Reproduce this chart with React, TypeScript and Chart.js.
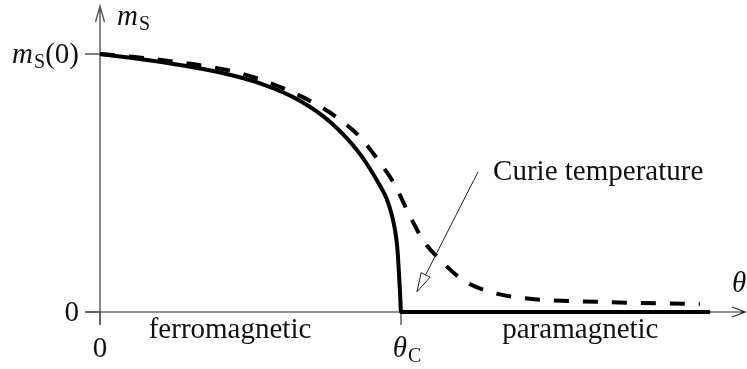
import React, { useEffect, useRef } from "react";
import { Chart, registerables } from "chart.js";

Chart.register(...registerables);

// Reduced temperature theta / theta_C
const solidTheta = [0, 0.199, 0.399, 0.532, 0.664, 0.764, 0.864, 0.93, 0.952, 0.969, 0.98, 0.988, 0.997, 1.0, 2.027];
const solidM = [1, 0.97, 0.928, 0.886, 0.819, 0.737, 0.612, 0.49, 0.44, 0.378, 0.318, 0.245, 0.07, 0, 0];

const dashedTheta = [0, 0.1, 0.222, 0.422, 0.521, 0.615, 0.703, 0.786, 0.864, 0.924, 0.98, 1.02, 1.073, 1.13, 1.206, 1.296, 1.405, 1.661, 1.993];
const dashedM = [1, 0.99, 0.974, 0.938, 0.906, 0.864, 0.815, 0.755, 0.678, 0.589, 0.492, 0.395, 0.279, 0.202, 0.124, 0.078, 0.054, 0.039, 0.031];

type Part = { t: string; italic?: boolean; sub?: boolean };

const xTickValues = [0, 1];
const xTickLabels: Part[][] = [[{ t: "0" }], [{ t: "θ", italic: true }, { t: "C", sub: true }]];
const yTickValues = [0, 1];
const yTickLabels: Part[][] = [[{ t: "0" }], [{ t: "m", italic: true }, { t: "S", sub: true }, { t: "(0)" }]];

const xAxisTitle: Part[] = [{ t: "θ", italic: true }];
const yAxisTitle: Part[] = [{ t: "m", italic: true }, { t: "S", sub: true }];

const regionLabels = ["ferromagnetic", "paramagnetic"];
const regionCenters = [0.432, 1.596];

const annotationText = "Curie temperature";
const annotationAt = { x: 1.306, y: 0.543 };
const annotationArrowFrom = { x: 1.256, y: 0.543 };
const annotationArrowTo = { x: 1.053, y: 0.078 };

const FAMILY = '"Liberation Serif", "DejaVu Serif", serif';
const SIZE = 29;
const SUB = 20;

function partFont(p: Part) {
  if (p.sub) return `${SUB}px ${FAMILY}`;
  return `${p.italic ? "italic " : ""}${SIZE}px ${FAMILY}`;
}

function measureParts(ctx: CanvasRenderingContext2D, parts: Part[]) {
  let w = 0;
  for (const p of parts) {
    ctx.font = partFont(p);
    w += ctx.measureText(p.t).width + (p.sub ? 1 : 0);
  }
  return w;
}

function drawParts(ctx: CanvasRenderingContext2D, parts: Part[], x: number, y: number, align: "left" | "center" | "right") {
  const w = measureParts(ctx, parts);
  let cx = align === "left" ? x : align === "center" ? x - w / 2 : x - w;
  ctx.textAlign = "left";
  ctx.textBaseline = "alphabetic";
  for (const p of parts) {
    ctx.font = partFont(p);
    const dy = p.sub ? 5 : 0;
    ctx.fillText(p.t, cx + (p.sub ? 1 : 0), y + dy);
    cx += ctx.measureText(p.t).width + (p.sub ? 1 : 0);
  }
}

const axesPlugin = {
  id: "physAxes",
  beforeDatasetsDraw(chart: any) {
    const ctx: CanvasRenderingContext2D = chart.ctx;
    const xs = chart.scales.x;
    const ys = chart.scales.y;
    const x0 = xs.getPixelForValue(0);
    const y0 = ys.getPixelForValue(0);
    const right = chart.chartArea.right - 2;
    ctx.save();
    // x axis
    ctx.strokeStyle = "#222";
    ctx.lineWidth = 1.2;
    ctx.beginPath();
    ctx.moveTo(x0 - 15, y0);
    ctx.lineTo(right, y0);
    ctx.moveTo(right - 13, y0 - 5);
    ctx.lineTo(right, y0);
    ctx.lineTo(right - 13, y0 + 5);
    ctx.stroke();
    // y axis
    ctx.strokeStyle = "#555";
    ctx.lineWidth = 1.4;
    ctx.beginPath();
    ctx.moveTo(x0, y0 + 13);
    ctx.lineTo(x0, 6);
    ctx.moveTo(x0 - 4.5, 22);
    ctx.lineTo(x0, 6);
    ctx.lineTo(x0 + 4.5, 22);
    ctx.stroke();
    // ticks
    ctx.beginPath();
    for (const v of xTickValues) {
      const px = xs.getPixelForValue(v);
      ctx.moveTo(px, y0);
      ctx.lineTo(px, y0 + 13);
    }
    for (const v of yTickValues) {
      const py = ys.getPixelForValue(v);
      ctx.moveTo(x0 - 15, py);
      ctx.lineTo(x0, py);
    }
    ctx.stroke();
    ctx.restore();
  },
  afterDatasetsDraw(chart: any) {
    const ctx: CanvasRenderingContext2D = chart.ctx;
    const xs = chart.scales.x;
    const ys = chart.scales.y;
    const x0 = xs.getPixelForValue(0);
    const y0 = ys.getPixelForValue(0);
    ctx.save();
    ctx.fillStyle = "#111";
    xTickValues.forEach((v, i) => {
      const px = xs.getPixelForValue(v);
      const shift = xTickLabels[i].length > 1 ? 6 : 0;
      drawParts(ctx, xTickLabels[i], px + shift, y0 + 45, "center");
    });
    yTickValues.forEach((v, i) => {
      const py = ys.getPixelForValue(v);
      drawParts(ctx, yTickLabels[i], x0 - 21, py + 9, "right");
    });
    drawParts(ctx, xAxisTitle, chart.chartArea.right - 15, y0 - 20, "left");
    drawParts(ctx, yAxisTitle, x0 + 17, 25, "left");
    regionLabels.forEach((t, i) => {
      drawParts(ctx, [{ t }], xs.getPixelForValue(regionCenters[i]), y0 + 26, "center");
    });
    drawParts(ctx, [{ t: annotationText }], xs.getPixelForValue(annotationAt.x), ys.getPixelForValue(annotationAt.y) + 8, "left");
    // annotation arrow
    const ax = xs.getPixelForValue(annotationArrowFrom.x);
    const ay = ys.getPixelForValue(annotationArrowFrom.y);
    const bx = xs.getPixelForValue(annotationArrowTo.x);
    const by = ys.getPixelForValue(annotationArrowTo.y);
    const ang = Math.atan2(by - ay, bx - ax);
    const L = 19;
    const H = 5;
    const baseX = bx - L * Math.cos(ang);
    const baseY = by - L * Math.sin(ang);
    ctx.strokeStyle = "#222";
    ctx.lineWidth = 1;
    ctx.beginPath();
    ctx.moveTo(ax, ay);
    ctx.lineTo(baseX, baseY);
    ctx.stroke();
    ctx.beginPath();
    ctx.moveTo(bx, by);
    ctx.lineTo(baseX + H * Math.sin(ang), baseY - H * Math.cos(ang));
    ctx.lineTo(baseX - H * Math.sin(ang), baseY + H * Math.cos(ang));
    ctx.closePath();
    ctx.fillStyle = "#fff";
    ctx.fill();
    ctx.stroke();
    ctx.restore();
  },
};

export default function App() {
  const ref = useRef<HTMLCanvasElement | null>(null);
  useEffect(() => {
    if (!ref.current) return;
    const chart = new Chart(ref.current, {
      type: "line",
      data: {
        datasets: [
          {
            label: "Spontaneous magnetization",
            data: solidTheta.map((x, i) => ({ x, y: solidM[i] })),
            borderColor: "#000",
            borderWidth: 4,
            pointRadius: 0,
            fill: false,
            cubicInterpolationMode: "monotone",
            borderCapStyle: "butt",
            order: 0,
          },
          {
            label: "With field",
            data: dashedTheta.map((x, i) => ({ x, y: dashedM[i] })),
            borderColor: "#000",
            borderWidth: 4,
            borderDash: [15, 14],
            pointRadius: 0,
            fill: false,
            cubicInterpolationMode: "monotone",
            borderCapStyle: "butt",
            order: 1,
          },
        ],
      },
      options: {
        animation: false,
        responsive: false,
        devicePixelRatio: 1,
        layout: { padding: 0 },
        plugins: { legend: { display: false }, tooltip: { enabled: false } },
        scales: {
          x: { type: "linear", min: -100 / 301, max: 647 / 301, display: false },
          y: { type: "linear", min: -57 / 258, max: 312 / 258, display: false },
        },
      },
      plugins: [axesPlugin],
    } as any);
    return () => chart.destroy();
  }, []);
  return (
    <div style={{ position: "fixed", left: 0, top: 0, width: 747, height: 369, background: "#fff" }}>
      <canvas ref={ref} width={747} height={369} style={{ display: "block" }} />
    </div>
  );
}
